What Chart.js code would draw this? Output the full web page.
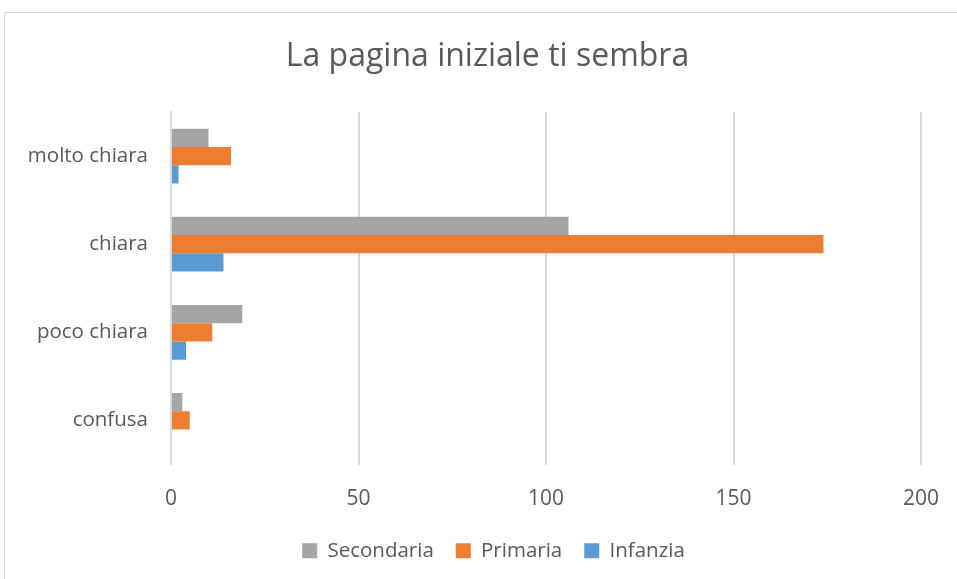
<!DOCTYPE html>
<html>
<head>
<meta charset="utf-8">
<script src="https://cdn.jsdelivr.net/npm/chart.js@4"></script>
<style>
  html, body { margin: 0; padding: 0; background: #fff; }
  #frame { position: absolute; left: 4px; top: 12px; width: 960px; height: 575px; border: 1px solid #d9d9d9; box-sizing: border-box; }
  #wrap { position: absolute; left: 0; top: 0; width: 957px; height: 579px; }
</style>
</head>
<body>
<div id="frame"></div>
<div id="wrap"><canvas id="chart"></canvas></div>
<script>
// categorie (dall'alto verso il basso)
const categories = ['molto chiara', 'chiara', 'poco chiara', 'confusa'];

// valori per ordine di scuola
const secondaria = [10, 106, 19, 3];
const primaria = [16, 174, 11, 5];
const infanzia = [2, 14, 4, 0];

const xTicks = [0, 50, 100, 150, 200];

const textColor = '#595959';
const gridColor = '#d9d9d9';

// titolo e legenda centrati sull'intero riquadro, non solo sull'area del grafico
const centerBoxes = {
  id: 'centerBoxes',
  afterLayout(chart) {
    const shift = (box, dx) => {
      if (!box) return;
      box.left += dx;
      box.right += dx;
    };
    shift(chart.titleBlock, 27);
    shift(chart.legend, 33);
  }
};

new Chart(document.getElementById('chart').getContext('2d'), {
  type: 'bar',
  data: {
    labels: categories,
    datasets: [
      { label: 'Secondaria', data: secondaria, backgroundColor: '#A5A5A5' },
      { label: 'Primaria', data: primaria, backgroundColor: '#ED7D31' },
      { label: 'Infanzia', data: infanzia, backgroundColor: '#5B9BD5' }
    ]
  },
  plugins: [centerBoxes],
  options: {
    indexAxis: 'y',
    responsive: true,
    maintainAspectRatio: false,
    animation: false,
    categoryPercentage: 0.62,
    barPercentage: 1,
    layout: { padding: { left: 0, right: 36, top: 0, bottom: 8 } },
    plugins: {
      title: {
        display: true,
        text: 'La pagina iniziale ti sembra',
        color: textColor,
        font: { family: 'Open Sans', size: 32, weight: 'normal' },
        padding: { top: 38, bottom: 35.6 }
      },
      legend: {
        position: 'bottom',
        labels: {
          color: textColor,
          font: { family: 'Open Sans', size: 20.5 },
          boxWidth: 15,
          boxHeight: 15,
          padding: 22
        }
      },
      tooltip: { enabled: false }
    },
    scales: {
      x: {
        min: 0,
        max: 200,
        afterBuildTicks: axis => { axis.ticks = xTicks.map(v => ({ value: v })); },
        afterFit: axis => {
          axis.height = 54;
          axis.paddingLeft = 0;
          axis.paddingRight = 0;
        },
        ticks: {
          color: textColor,
          font: { family: 'Open Sans', size: 21 },
          padding: 22
        },
        grid: { color: gridColor, lineWidth: 2, drawTicks: false },
        border: { display: false }
      },
      y: {
        afterFit: axis => { axis.width = 171; },
        ticks: {
          color: textColor,
          font: { family: 'Open Sans', size: 20.5 },
          padding: 23
        },
        grid: { display: false, drawTicks: false },
        border: { display: true, color: gridColor, width: 2 }
      }
    }
  }
});
</script>
</body>
</html>
